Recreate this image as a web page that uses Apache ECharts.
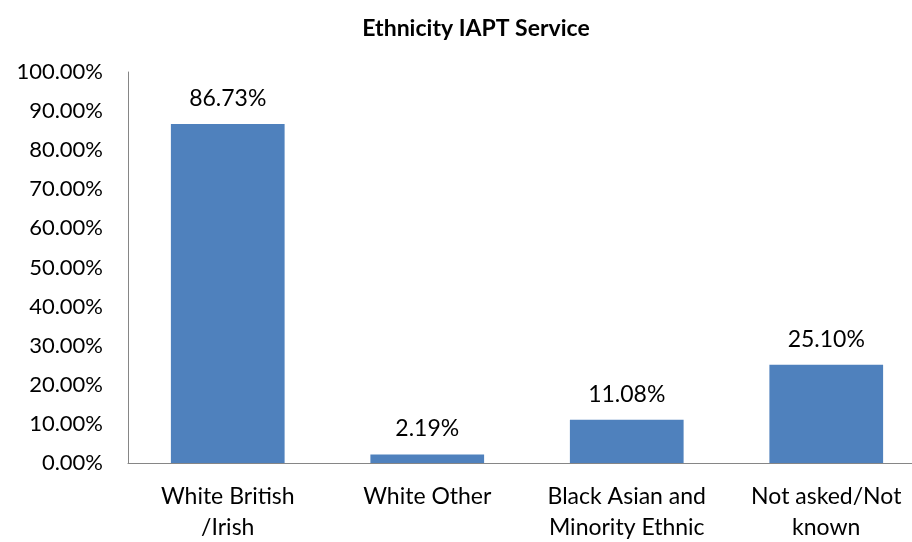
<!DOCTYPE html>
<html>
<head>
<meta charset="utf-8">
<script src="https://cdn.jsdelivr.net/npm/echarts@6/dist/echarts.min.js"></script>
<style>
  html, body { margin: 0; padding: 0; background: #fff; overflow: hidden; }
</style>
</head>
<body>
<!-- the plot runs a little past the right edge of the picture, so the chart is wider than the window -->
<div id="chart" style="width: 926px; height: 542px;"></div>
<script>
// categories and values
const categories = ['White British\n/Irish', 'White Other', 'Black Asian and\nMinority Ethnic', 'Not asked/Not\nknown']
const values = [86.73, 2.19, 11.08, 25.10]

const yMin = 0
const yMax = 100
const yStep = 10

const font = 'Lato, Carlito, Calibri, sans-serif'

let myChart = echarts.init(document.getElementById('chart'))
myChart.setOption({
  animation: false,
  title: {
    text: 'Ethnicity IAPT Service',
    left: 471,
    textAlign: 'center',
    top: 12,
    textStyle: {
      fontFamily: font,
      fontSize: 23,
      fontWeight: 'bold',
      color: '#000'
    }
  },
  grid: {
    left: 128,
    right: 0,
    top: 72,
    bottom: 79,
    outerBoundsMode: 'none'
  },
  xAxis: {
    type: 'category',
    data: categories,
    axisTick: { show: false },
    axisLine: {
      lineStyle: { color: '#868686', width: 1 }
    },
    axisLabel: {
      interval: 0,
      margin: 18,
      fontFamily: font,
      fontSize: 23,
      lineHeight: 31,
      color: '#000'
    }
  },
  yAxis: {
    type: 'value',
    min: yMin,
    max: yMax,
    interval: yStep,
    splitLine: { show: false },
    axisTick: { show: false },
    axisLine: {
      show: true,
      lineStyle: { color: '#868686', width: 1 }
    },
    axisLabel: {
      margin: 25,
      fontFamily: font,
      fontSize: 22,
      color: '#000',
      formatter: v => v.toFixed(2) + '%'
    }
  },
  series: [
    {
      type: 'bar',
      data: values,
      barWidth: '57%',
      itemStyle: { color: '#4F81BD' },
      label: {
        show: true,
        position: 'top',
        distance: 14,
        fontFamily: font,
        fontSize: 23,
        color: '#000',
        formatter: p => p.value.toFixed(2) + '%'
      }
    }
  ]
})
</script>
</body>
</html>
